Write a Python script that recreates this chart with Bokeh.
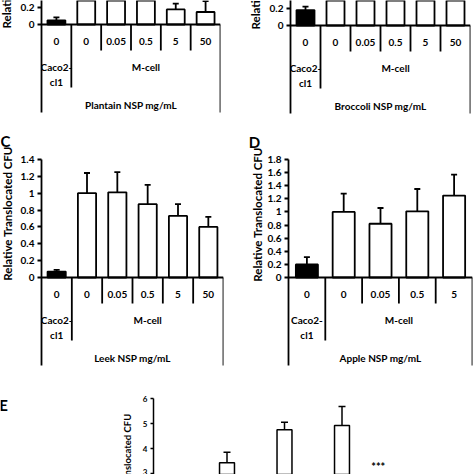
import math
from bokeh.plotting import figure
from bokeh.layouts import column, row
from bokeh.models import ColumnDataSource, Whisker, TeeHead, FixedTicker, Range1d
from bokeh.core.properties import value
from bokeh.embed import file_html
from bokeh.resources import INLINE

# ---------------- data ----------------
y_title = "Relative Translocated CFU"
caco_label = ["Caco2-", "cl1"]
mcell_label = "M-cell"

a_doses = ["0", "0", "0.05", "0.5", "5", "50"]
a_means = [0.05, 1.00, 0.95, 0.80, 0.18, 0.15]
a_upper = [0.085, 1.20, 1.15, 1.00, 0.25, 0.28]
a_title = "Plantain NSP mg/mL"

b_doses = ["0", "0", "0.05", "0.5", "5", "50"]
b_means = [0.185, 1.00, 1.00, 1.00, 1.00, 1.00]
b_upper = [0.225, 1.20, 1.20, 1.20, 1.20, 1.20]
b_title = "Broccoli NSP mg/mL"

c_doses = ["0", "0", "0.05", "0.5", "5", "50"]
c_means = [0.07, 1.00, 1.01, 0.87, 0.73, 0.60]
c_upper = [0.09, 1.24, 1.25, 1.10, 0.87, 0.72]
c_title = "Leek NSP mg/mL"

d_doses = ["0", "0", "0.05", "0.5", "5"]
d_means = [0.20, 1.00, 0.82, 1.01, 1.25]
d_upper = [0.31, 1.28, 1.06, 1.35, 1.57]
d_title = "Apple NSP mg/mL"

ticks_14 = [0, 0.2, 0.4, 0.6, 0.8, 1.0, 1.2, 1.4]
tick_labels_14 = ["0", "0.2", "0.4", "0.6", "0.8", "1", "1.2", "1.4"]
ticks_18 = [0, 0.2, 0.4, 0.6, 0.8, 1.0, 1.2, 1.4, 1.6, 1.8]
tick_labels_18 = ["0", "0.2", "0.4", "0.6", "0.8", "1", "1.2", "1.4", "1.6", "1.8"]

e_pos = [1, 2, 3]
e_means = [3.44, 4.76, 4.93]
e_upper = [3.86, 5.06, 5.69]
e_ticks = [0, 1, 2, 3, 4, 5, 6]
e_tick_labels = ["0", "1", "2", "3", "4", "5", "6"]
e_star = "***"
e_star_x = 3.63
e_star_y = 3.28

# ---------------- style / geometry ----------------
FONT = "Lato"
LW = 1.8


def base_fig(W, H, L, R, xr, yr):
    p = figure(width=W, height=H, x_range=xr, y_range=yr, output_backend="svg",
               toolbar_location=None, title=None, x_axis_type=None,
               min_border_left=L, min_border_right=R,
               min_border_top=0, min_border_bottom=0)
    p.xgrid.visible = False
    p.ygrid.visible = False
    p.outline_line_color = None
    p.background_fill_color = "white"
    p.border_fill_color = "white"
    return p


def gutter(W, H, yr):
    g = figure(width=W, height=H, x_range=Range1d(0, W), y_range=yr, output_backend="svg",
               toolbar_location=None, title=None, x_axis_type=None, y_axis_type=None,
               min_border_left=0, min_border_right=0, min_border_top=0, min_border_bottom=0)
    g.xgrid.visible = False
    g.ygrid.visible = False
    g.outline_line_color = None
    g.background_fill_color = "white"
    g.border_fill_color = "white"
    return g


def style_yaxis(p, ticks, labels, bounds, size):
    ax = p.yaxis[0]
    ax.ticker = FixedTicker(ticks=ticks)
    ax.major_label_overrides = {t: l for t, l in zip(ticks, labels)}
    ax.bounds = bounds
    ax.axis_line_width = LW
    ax.axis_line_color = "black"
    ax.major_tick_line_width = LW
    ax.major_tick_line_color = "black"
    ax.major_tick_out = 4
    ax.major_tick_in = 0
    ax.minor_tick_line_color = None
    ax.major_label_standoff = 3
    ax.major_label_text_font = FONT
    ax.major_label_text_font_style = "bold"
    ax.major_label_text_font_size = size
    ax.major_label_text_color = "black"


TXT = dict(text_font=value(FONT), text_font_style="bold", text_color="black")


def table_panel(box_w, box_h, gut_w, axis_x, right_x, base_y, ppu, doses, means, upper,
                ticks, tick_labels, axis_top, title, ylab, letter=None):
    n = len(doses)
    yr = Range1d(-(box_h - base_y) / ppu, base_y / ppu)
    p = base_fig(box_w - gut_w, box_h, axis_x - gut_w, box_w - right_x, Range1d(0, n), yr)

    def dy(px):
        return -px / ppu

    table_bottom = dy(88)
    style_yaxis(p, ticks, tick_labels, (table_bottom, axis_top), "10px")

    xs = [i + 0.5 for i in range(n)]
    colors = ["black"] + ["white"] * (n - 1)
    src = ColumnDataSource(dict(x=xs, top=means, upper=upper, color=colors))
    p.vbar(x="x", top="top", bottom=0, width=0.6, fill_color="color",
           line_color="black", line_width=LW, source=src)
    p.add_layout(Whisker(base="x", lower="top", upper="upper", source=src,
                         line_width=LW, line_color="black",
                         upper_head=TeeHead(size=6, line_width=LW, line_color="black"),
                         lower_head=None))

    # category table under the axis
    sx0 = [0, 1] + list(range(2, n)) + [n]
    sx1 = [n, 1] + list(range(2, n)) + [n]
    sy0 = [0] * (n + 1)
    sy1 = [0, dy(63)] + [dy(26)] * (n - 2) + [table_bottom]
    p.segment(x0=sx0, y0=sy0, x1=sx1, y1=sy1, line_color="black", line_width=LW)

    tf = dict(TXT, text_font_size="10px", text_align="center", text_baseline="middle")
    p.text(x=xs, y=[dy(17)] * n, text=doses, **tf)
    p.text(x=[0.5, 0.5], y=[dy(42), dy(57)], text=caco_label, **tf)
    p.text(x=[(1 + n) / 2], y=[dy(42)], text=[mcell_label], **tf)
    p.text(x=[n / 2], y=[dy(80)], text=[title], **tf)

    # gutter with the axis title and the panel letter
    g = gutter(gut_w, box_h, yr)
    lx, ly, align = ylab
    g.text(x=[lx], y=[(base_y - ly) / ppu], text=[y_title], angle=math.pi / 2,
           text_align=align, text_baseline="middle", text_font_size="11.5px", **TXT)
    if letter is not None:
        t, lx2, ly2 = letter
        g.text(x=[lx2], y=[(base_y - ly2) / ppu], text=[t], text_align="center",
               text_baseline="middle", text_font_size="15px", **TXT)
    return row(g, p)


pa = table_panel(237, 128, 16, 41, 220, 24, 83.5, a_doses, a_means, a_upper,
                 ticks_14, tick_labels_14, 1.4, a_title, (6, 28, "left"))
pb = table_panel(237, 128, 26, 53, 233, 25, 83.5, b_doses, b_means, b_upper,
                 ticks_14, tick_labels_14, 1.4, b_title, (18, 29, "left"))
pc = table_panel(237, 247, 16, 41, 223, 149, 84.29, c_doses, c_means, c_upper,
                 ticks_14, tick_labels_14, 1.4, c_title, (7, 85, "center"), ("C", 5, 12))
pd = table_panel(237, 247, 27, 50, 235, 149, 65.56, d_doses, d_means, d_upper,
                 ticks_18, tick_labels_18, 1.8, d_title, (20, 86, "center"), ("D", 17, 13))

# ---------------- panel E ----------------
E_w, E_h = 474, 99
E_gut = 137
E_axis = 153
E_ppu = 25.0
E_colw = 57.5
E_x1ref = 226.5
E_y3ref = 98.3


def ex(rx):
    return 1 + (rx - E_x1ref) / E_colw


def ey(ry):
    return 3 + (E_y3ref - ry) / E_ppu


e_yr = Range1d(ey(E_h), ey(0))
pe = base_fig(E_w - E_gut, E_h, E_axis - E_gut, 0, Range1d(ex(E_axis), ex(E_w)), e_yr)
style_yaxis(pe, e_ticks, e_tick_labels, (0, 6), "8px")
pe.yaxis[0].major_tick_out = 3
pe.yaxis[0].axis_line_width = 1.5
pe.yaxis[0].major_tick_line_width = 1.5
esrc = ColumnDataSource(dict(x=e_pos, top=e_means, upper=e_upper))
pe.vbar(x="x", top="top", bottom=0, width=0.26, fill_color="white",
        line_color="black", line_width=1.5, source=esrc)
pe.add_layout(Whisker(base="x", lower="top", upper="upper", source=esrc,
                      line_width=1.5, line_color="black",
                      upper_head=TeeHead(size=7, line_width=1.5, line_color="black"),
                      lower_head=None))
pe.text(x=[e_star_x], y=[e_star_y], text=[e_star], text_font_size="11px",
        text_align="center", text_baseline="middle", **TXT)

ge = gutter(E_gut, E_h, e_yr)
ge.text(x=[127], y=[ey(38)], text=[y_title], angle=math.pi / 2, text_align="right",
        text_baseline="middle", text_font_size="9.5px", **TXT)
ge.text(x=[3], y=[ey(29)], text=["E"], text_align="center", text_baseline="middle",
        text_font_size="15px", **TXT)

layout = column(row(pa, pb), row(pc, pd), row(ge, pe))

with open("out.html", "w") as f:
    f.write(file_html(layout, INLINE))
